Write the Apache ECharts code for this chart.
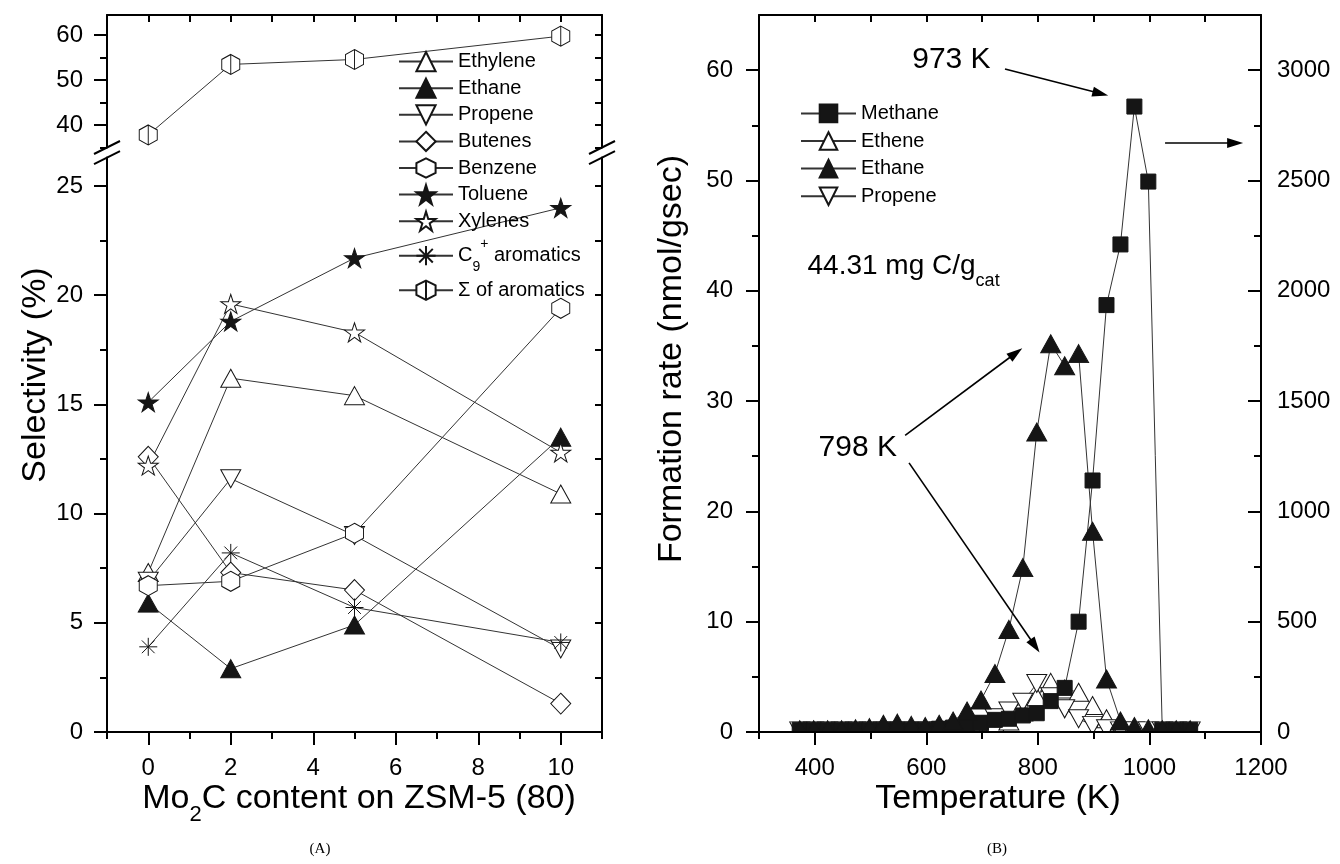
<!DOCTYPE html>
<html><head><meta charset="utf-8">
<script src="https://cdn.jsdelivr.net/npm/echarts@6/dist/echarts.min.js"></script>
<style>html,body{margin:0;padding:0;background:#fff}#c{width:1340px;height:864px}</style>
</head><body><div id="c"></div>
<script>
// ---------- Panel (A): selectivity vs Mo2C content ----------
const moContent = [0, 2, 5, 10];
const ethylene  = [7.3, 16.2, 15.4, 10.9];
const ethaneA   = [5.9, 2.9, 4.9, 13.5];
const propeneA  = [6.9, 11.6, 9.0, 3.8];
const butenes   = [12.6, 7.3, 6.5, 1.3];
const benzene   = [6.7, 6.9, 9.1, 19.4];
const toluene   = [15.1, 18.8, 21.7, 24.0];
const xylenes   = [12.2, 19.6, 18.3, 12.8];
const c9arom    = [3.9, 8.2, 5.7, 4.1];
const sumArom   = [37.8, 53.5, 54.6, 59.8];

const aXTicks    = [0, 2, 4, 6, 8, 10];
const aXMinor    = [-1, 1, 3, 5, 7, 9, 11];
const aXTop      = [0, 1, 2, 3, 4, 5, 6, 7, 8, 9, 10];
const aYLowTicks = [0, 5, 10, 15, 20, 25];
const aYLowMinor = [2.5, 7.5, 12.5, 17.5, 22.5];
const aYLowRight = [0, 2.5, 5, 7.5, 10, 12.5, 15, 17.5, 20, 22.5, 25];
const aYUpTicks  = [40, 50, 60];
const aYUpMinor  = [35, 45, 55];
const aYUpRight  = [35, 40, 45, 50, 55, 60];

// ---------- Panel (B): formation rate vs temperature ----------
const temperature = [373, 398, 423, 448, 473, 498, 523, 548, 573, 598, 623, 648, 673, 698, 723,
                     748, 773, 798, 823, 848, 873, 898, 923, 948, 973, 998, 1023, 1048, 1073];
// methane on the right axis
const methane  = [10, 10, 10, 10, 10, 10, 10, 10, 10, 10, 15, 20, 30, 40, 55,
                  60, 75, 85, 140, 200, 500, 1140, 1935, 2210, 2835, 2495, 10, 10, 10];
const etheneB  = [0.1, 0.1, 0.1, 0.1, 0.1, 0.1, 0.1, 0.1, 0.1, 0.1, 0.1, 0.1, 0.2, 0.4, 0.7,
                  1.0, 1.8, 3.2, 4.5, 3.9, 3.6, 2.4, 1.2, 0.4, 0.2, 0.1, 0.1, 0.1, 0.1];
const ethaneB  = [0.2, 0.2, 0.2, 0.2, 0.3, 0.4, 0.7, 0.8, 0.6, 0.5, 0.7, 1.0, 1.9, 2.9, 5.3,
                  9.3, 14.9, 27.2, 35.2, 33.2, 34.3, 18.2, 4.8, 1.0, 0.5, 0.3, 0.2, 0.2, 0.2];
const propeneB = [0.1, 0.1, 0.1, 0.1, 0.1, 0.1, 0.1, 0.1, 0.1, 0.1, 0.1, 0.1, 0.3, 0.7, 1.3,
                  1.9, 2.7, 4.4, 3.2, 2.1, 1.2, 0.6, 0.3, 0.1, 0.1, 0.1, 0.1, 0.1, 0.1];

const bXTicks  = [400, 600, 800, 1000, 1200];
const bXMinor  = [300, 500, 700, 900, 1100];
const bXTop    = [300, 400, 500, 600, 700, 800, 900, 1000, 1100, 1200];
const bYLTicks = [0, 10, 20, 30, 40, 50, 60];
const bYLMinor = [5, 15, 25, 35, 45, 55];
const bYRTicks = [0, 500, 1000, 1500, 2000, 2500, 3000];
const bYRMinor = [250, 750, 1250, 1750, 2250, 2750];

// annotations in data units of panel B (temperature, left-axis rate)
const label973  = [645, 60.9];
const arrow973  = [[741, 60.1], [926, 57.7]];
const label798  = [477, 25.75];
const arrow798a = [[562, 26.9], [772, 34.8]];
const arrow798b = [[569, 24.4], [803, 7.2]];
const arrowAxis = [[1028, 53.4], [1168, 53.4]];
const loadingPos = [387, 42.2];

// ---------- styling ----------
const FONT = 'Liberation Sans, Arial, Helvetica, sans-serif';
const LINE = '#333';
const INK = '#151515';
const P_TRI_DOWN = 'path://M0,0 L20,0 L10,18 Z';
const P_HEX = 'path://M43.3,0 L86.6,25 L86.6,75 L43.3,100 L0,75 L0,25 Z';
const P_HEX_BAR = 'path://M43.3,0 L86.6,25 L86.6,75 L43.3,100 L0,75 L0,25 Z M43.3,0 L43.3,100';
const P_STAR = 'path://M50,0 L61.23,34.55 L97.55,34.55 L68.17,55.9 L79.39,90.45 L50,69.1 L20.61,90.45 L31.83,55.9 L2.45,34.55 L38.77,34.55 Z';
const P_AST = 'path://M50,0 L50,100 M0,50 L100,50 M14.6,14.6 L85.4,85.4 M85.4,14.6 L14.6,85.4';

const AL = {show: true, onZero: false, lineStyle: {color: '#000', width: 2}};
const NL = {show: false, onZero: false};
const TK = (vals, len, inside) => ({show: true, customValues: vals, length: len, inside: !!inside,
  lineStyle: {color: '#000', width: 2}});
const LB = (vals, margin) => ({show: true, customValues: vals, fontSize: 24, margin: margin,
  color: '#000', fontFamily: FONT, showMinLabel: true, showMaxLabel: true,
  formatter: v => String(v)});
const NOLB = {show: false};
function vAxis(gridIndex, position, min, max, line, tick, label, z) {
  return {type: 'value', gridIndex, position, min, max, axisLine: line, axisTick: tick,
    axisLabel: label, splitLine: {show: false}, minorTick: {show: false}, z: z || 0};
}

function mkSeries(name, xs, ys, xi, yi, symbol, size, fill) {
  return {
    type: 'line', name, xAxisIndex: xi, yAxisIndex: yi,
    data: xs.map((x, i) => [x, ys[i]]),
    symbol, symbolSize: size, showAllSymbol: true,
    lineStyle: {color: LINE, width: 1},
    itemStyle: {color: fill, borderColor: INK, borderWidth: 1},
    emphasis: {disabled: true}, animation: false, z: 3
  };
}

const series = [
  mkSeries('Ethylene', moContent, ethylene, 0, 3, 'triangle', [20, 18], '#fff'),
  mkSeries('Ethane', moContent, ethaneA, 0, 3, 'triangle', [20, 18], INK),
  mkSeries('Propene', moContent, propeneA, 0, 3, P_TRI_DOWN, [20, 18], '#fff'),
  mkSeries('Butenes', moContent, butenes, 0, 3, 'diamond', [20, 21], '#fff'),
  mkSeries('Benzene', moContent, benzene, 0, 3, P_HEX, [18, 20], '#fff'),
  mkSeries('Toluene', moContent, toluene, 0, 3, P_STAR, [20, 19], INK),
  mkSeries('Xylenes', moContent, xylenes, 0, 3, P_STAR, [20, 19], '#fff'),
  mkSeries('C9+ aromatics', moContent, c9arom, 0, 3, P_AST, [18, 18], '#fff'),
  mkSeries('Σ of aromatics', moContent, sumArom, 2, 0, P_HEX_BAR, [18, 20], '#fff'),
  mkSeries('Ethene', temperature, etheneB, 3, 6, 'triangle', [20, 18], '#fff'),
  mkSeries('Propene', temperature, propeneB, 3, 6, P_TRI_DOWN, [20, 18], '#fff'),
  mkSeries('Methane', temperature, methane, 3, 8, 'rect', 15, INK),
  mkSeries('Ethane', temperature, ethaneB, 3, 6, 'triangle', [20, 18], INK)
];
const IDX_B = 12;

const option = {
  animation: false,
  backgroundColor: '#fff',
  textStyle: {fontFamily: FONT},
  grid: [
    {left: 107, width: 495, top: 15, height: 132.5, outerBoundsMode: 'none'},
    {left: 107, width: 495, top: 157.6, height: 574.4, outerBoundsMode: 'none'},
    {left: 759, width: 502, top: 15, height: 717, outerBoundsMode: 'none'}
  ],
  xAxis: [
    vAxis(1, 'bottom', -1, 11, AL, TK(aXTicks, 13), LB(aXTicks, 24)),
    vAxis(1, 'bottom', -1, 11, NL, TK(aXMinor, 7), NOLB),
    vAxis(0, 'top', -1, 11, AL, TK(aXTop, 7, true), NOLB),
    vAxis(2, 'bottom', 300, 1200, AL, TK(bXTicks, 13), LB(bXTicks, 24), 10),
    vAxis(2, 'bottom', 300, 1200, NL, TK(bXMinor, 7), NOLB, 10),
    vAxis(2, 'top', 300, 1200, AL, TK(bXTop, 7, true), NOLB)
  ],
  yAxis: [
    vAxis(0, 'left', 35, 64.5, AL, TK(aYUpTicks, 13), LB(aYUpTicks, 24)),
    vAxis(0, 'left', 35, 64.5, NL, TK(aYUpMinor, 7), NOLB),
    vAxis(0, 'right', 35, 64.5, AL, TK(aYUpRight, 7, true), NOLB),
    vAxis(1, 'left', 0, 26.3, AL, TK(aYLowTicks, 13), LB(aYLowTicks, 24)),
    vAxis(1, 'left', 0, 26.3, NL, TK(aYLowMinor, 7), NOLB),
    vAxis(1, 'right', 0, 26.3, AL, TK(aYLowRight, 7, true), NOLB),
    vAxis(2, 'left', 0, 65, AL, TK(bYLTicks, 13), LB(bYLTicks, 26)),
    vAxis(2, 'left', 0, 65, NL, TK(bYLMinor, 7), NOLB),
    vAxis(2, 'right', 0, 3250, AL, TK(bYRTicks, 13, true), LB(bYRTicks, 16)),
    vAxis(2, 'right', 0, 3250, NL, TK(bYRMinor, 7, true), NOLB)
  ],
  legend: [
    {
      data: ['Ethylene', 'Ethane', 'Propene', 'Butenes', 'Benzene', 'Toluene', 'Xylenes', 'C9+ aromatics', 'Σ of aromatics'],
      orient: 'vertical', left: 398, top: 51, itemWidth: 54, itemHeight: 24, itemGap: 5.4,
      selectedMode: false, padding: 0,
      textStyle: {fontSize: 20, color: '#000', fontFamily: FONT,
        rich: {
          n: {fontSize: 20, lineHeight: 37, color: '#000', fontFamily: FONT},
          sub: {fontSize: 14, lineHeight: 20, verticalAlign: 'bottom', color: '#000', fontFamily: FONT},
          sup: {fontSize: 14, lineHeight: 20, verticalAlign: 'top', color: '#000', fontFamily: FONT}
        }},
      formatter: name => name === 'C9+ aromatics' ? '{n|C}{sub|9}{sup|+}{n| aromatics}' : name
    },
    {
      data: ['Methane', 'Ethene', 'Ethane', 'Propene'],
      orient: 'vertical', left: 800, top: 103.4, itemWidth: 55, itemHeight: 22, itemGap: 7.6,
      selectedMode: false, padding: 0,
      textStyle: {fontSize: 20, color: '#000', fontFamily: FONT}
    }
  ],
  series: series
};

const chart = echarts.init(document.getElementById('c'), null, {renderer: 'canvas'});
chart.setOption(option);

// ---------- annotations ----------
const toPx = p => chart.convertToPixel({seriesIndex: IDX_B}, p);
function arrow(a, b) {
  const p0 = toPx(a), p1 = toPx(b);
  const dx = p1[0] - p0[0], dy = p1[1] - p0[1], L = Math.hypot(dx, dy);
  const ux = dx / L, uy = dy / L, hl = 16, hw = 5;
  const bx = p1[0] - ux * hl, by = p1[1] - uy * hl;
  return [
    {type: 'line', shape: {x1: p0[0], y1: p0[1], x2: bx + ux * 2, y2: by + uy * 2}, style: {stroke: '#000', lineWidth: 1.6}, z: 20},
    {type: 'polygon', shape: {points: [[p1[0], p1[1]], [bx - uy * hw, by + ux * hw], [bx + uy * hw, by - ux * hw]]}, style: {fill: '#000'}, z: 20}
  ];
}
function txt(p, text, size, extra) {
  return Object.assign({type: 'text', x: p[0], y: p[1], z: 20,
    style: {text, fontSize: size, fontFamily: FONT, fill: '#000', align: 'center', verticalAlign: 'middle'}}, extra || {});
}
function breakMarks(x) {
  return [147.5, 157.6].map(y => ({type: 'line', z: 20,
    shape: {x1: x - 13, y1: y + 6.5, x2: x + 13, y2: y - 6.5}, style: {stroke: '#000', lineWidth: 2}}));
}
const lp = toPx(loadingPos);
const g = [
  {type: 'rect', shape: {x: 760, y: 733, width: 500, height: 22}, style: {fill: '#fff'}, z: 5},
  ...breakMarks(107), ...breakMarks(602),
  txt(toPx(label973), '973 K', 30),
  ...arrow(arrow973[0], arrow973[1]),
  txt(toPx(label798), '798 K', 30),
  ...arrow(arrow798a[0], arrow798a[1]),
  ...arrow(arrow798b[0], arrow798b[1]),
  ...arrow(arrowAxis[0], arrowAxis[1]),
  {type: 'text', x: lp[0], y: lp[1], z: 20, style: {
    text: '{a|44.31 mg C/g}{s|cat}', align: 'left', verticalAlign: 'middle',
    rich: {a: {fontSize: 28, fontFamily: FONT, fill: '#000', lineHeight: 48},
           s: {fontSize: 18, fontFamily: FONT, fill: '#000', lineHeight: 16, verticalAlign: 'bottom'}}}},
  txt([36, 375], 'Selectivity (%)', 34, {rotation: Math.PI / 2}),
  {type: 'text', x: 359, y: 799, z: 20, style: {
    text: '{a|Mo}{s|2}{a|C content on ZSM-5 (80)}', align: 'center', verticalAlign: 'middle',
    rich: {a: {fontSize: 34, fontFamily: FONT, fill: '#000', lineHeight: 54},
           s: {fontSize: 22, fontFamily: FONT, fill: '#000', lineHeight: 30, verticalAlign: 'bottom'}}}},
  txt([672, 359], 'Formation rate (nmol/gsec)', 34, {rotation: Math.PI / 2}),
  txt([998, 799], 'Temperature (K)', 34),
  {type: 'text', x: 320, y: 849, z: 20, style: {text: '(A)', fontSize: 15, fontFamily: 'Liberation Serif, Times New Roman, serif', fill: '#000', align: 'center', verticalAlign: 'middle'}},
  {type: 'text', x: 997, y: 849, z: 20, style: {text: '(B)', fontSize: 15, fontFamily: 'Liberation Serif, Times New Roman, serif', fill: '#000', align: 'center', verticalAlign: 'middle'}}
];
chart.setOption({graphic: {elements: g}});
</script>
</body></html>
